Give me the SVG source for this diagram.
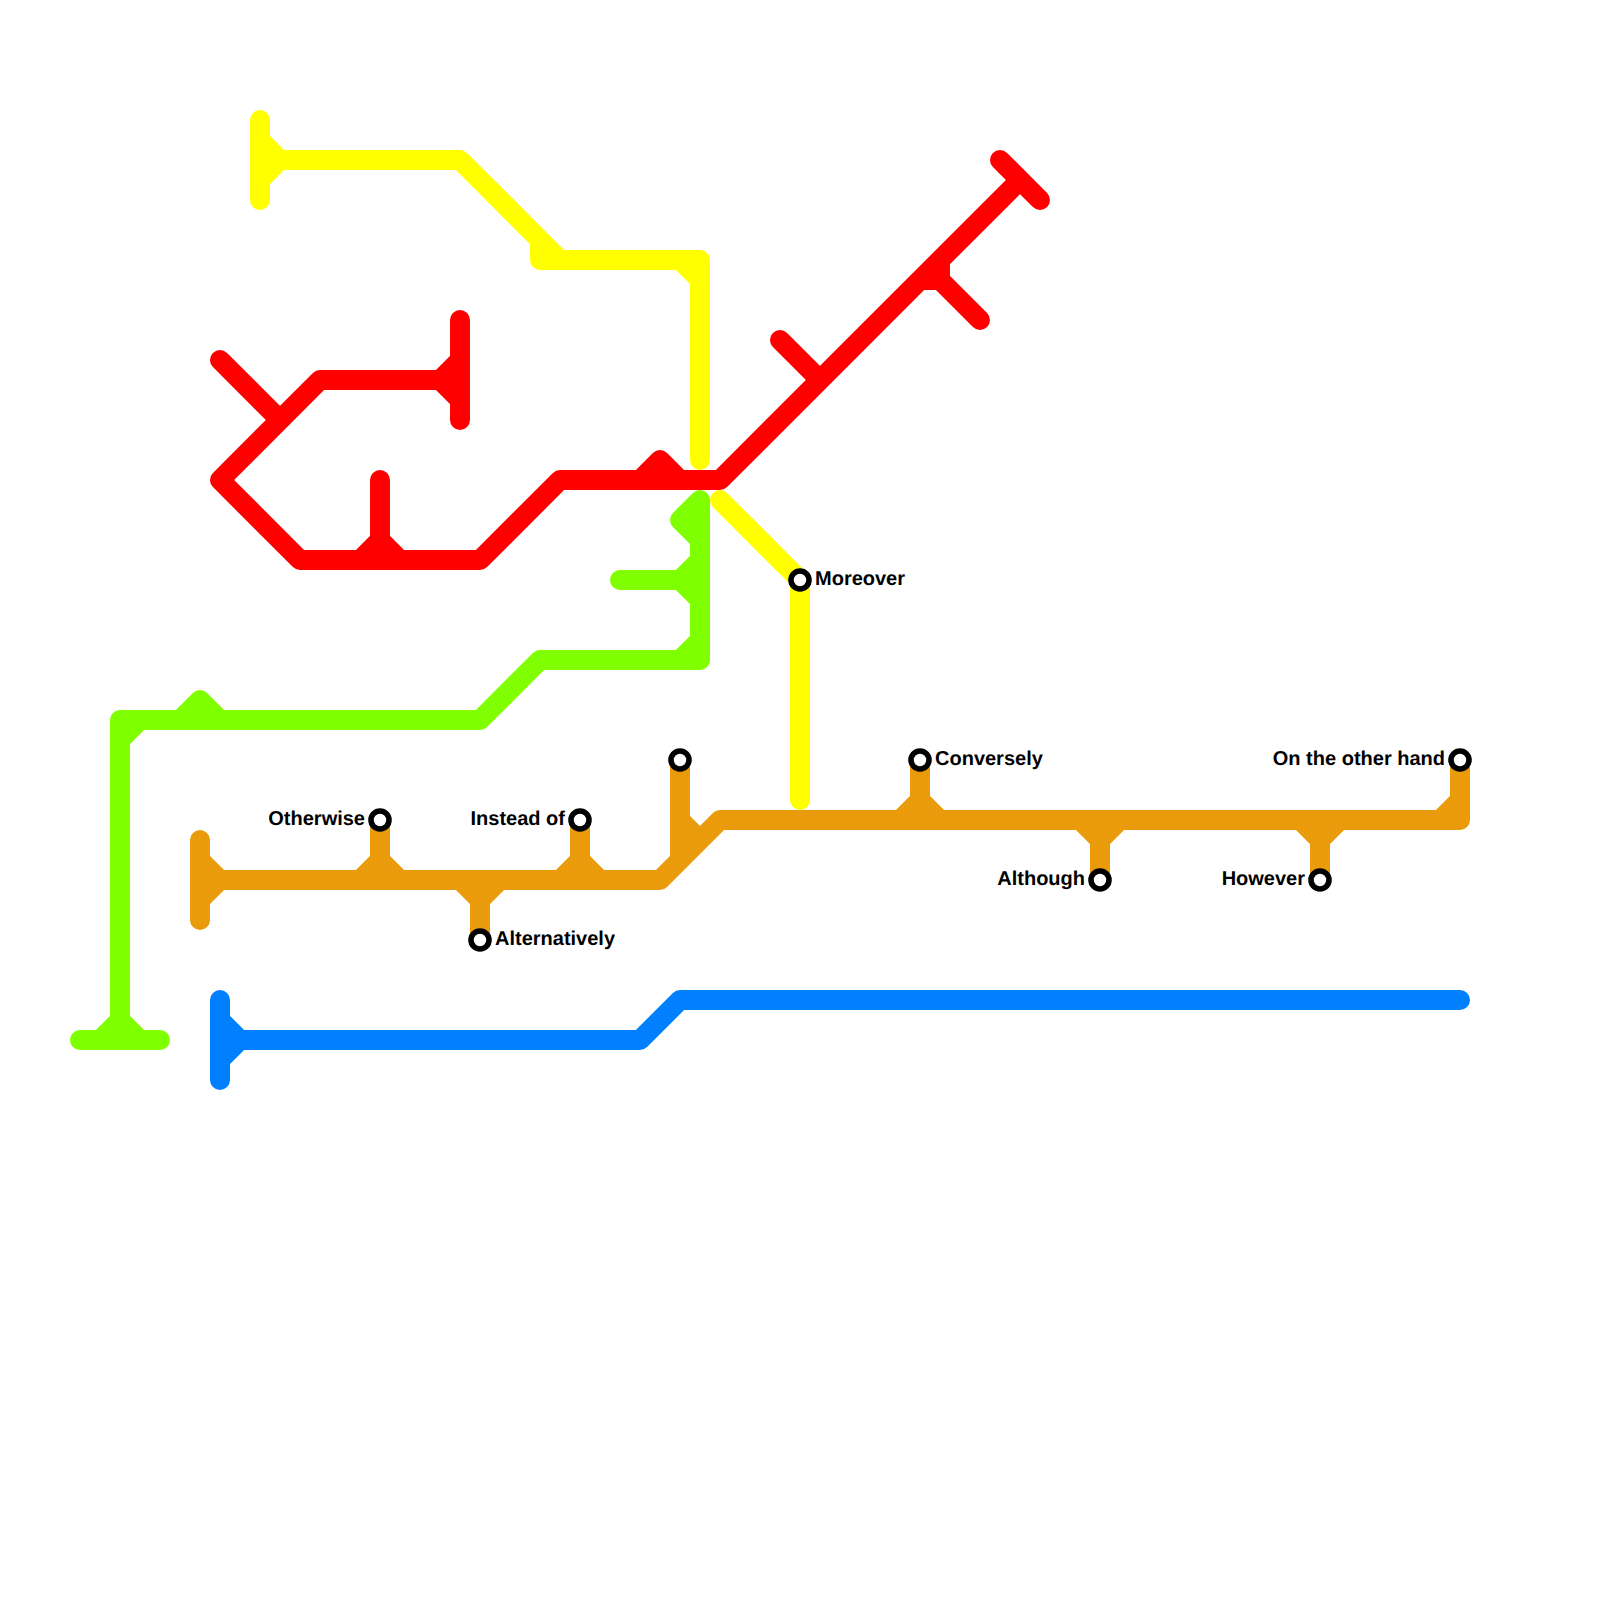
<svg xmlns="http://www.w3.org/2000/svg" width="1600" height="1600" viewBox="0 0 1600 1600">
<style>
.l{fill:none;stroke-width:20;stroke-linecap:round;stroke-linejoin:round}
.st{fill:#fff;stroke:#000;stroke-width:5.6}
text{font-family:"Liberation Sans",Arial,sans-serif;font-weight:700;font-size:20px;fill:#000;text-rendering:geometricPrecision}
.e{text-anchor:end}
</style>
<rect width="1600" height="1600" fill="#fff"/>
<g id="connectors">
<path id="line-orange" class="l" stroke="#e99b0c" d="M200 840V920M200 860L220 880L200 900M200 880H660L720 820H1460V760M1440 820L1460 800M380 820V880M360 880L380 860L400 880M480 880V940M460 880L480 900L500 880M580 820V880M560 880L580 860L600 880M680 760V860M660 880L680 860M680 820L700 840M920 760V820M900 820L920 800L940 820M1100 820V880M1080 820L1100 840L1120 820M1320 820V880M1300 820L1320 840L1340 820"/>
<path id="line-yellow" class="l" stroke="#ffff00" d="M260 120V200M260 140L280 160L260 180M260 160H460L560 260M540 240V260H700V460M680 260L700 280M720 500L800 580V800"/>
<path id="line-red" class="l" stroke="#ff0000" d="M220 360L280 420M220 480L320 380H460M460 320V420M440 380L460 360M440 380L460 400M220 480L300 560H480L560 480H720L1020 180M1000 160L1040 200M780 340L820 380M980 320L940 280V260M940 280H920M380 480V560M360 560L380 540L400 560M640 480L660 460L680 480"/>
<path id="line-green" class="l" stroke="#80ff00" d="M700 500V660H540L480 720H120V1040M700 500L680 520L700 540M620 580H700M680 580L700 560M680 580L700 600M680 660L700 640M120 740L140 720M180 720L200 700L220 720M80 1040H160M100 1040L120 1020L140 1040"/>
<path id="line-blue" class="l" stroke="#0080ff" d="M220 1000V1080M220 1020L240 1040L220 1060M220 1040H640L680 1000H1460"/>
</g>
<g id="node-moreover"><circle class="st" cx="800" cy="580" r="9"/><text x="815" y="585">Moreover</text></g>
<g id="node-otherwise"><circle class="st" cx="380" cy="820" r="9"/><text class="e" x="365" y="825">Otherwise</text></g>
<g id="node-instead-of"><circle class="st" cx="580" cy="820" r="9"/><text class="e" x="565" y="825">Instead of</text></g>
<g id="node-alternatively"><circle class="st" cx="480" cy="940" r="9"/><text x="495" y="945">Alternatively</text></g>
<g id="node-unnamed"><circle class="st" cx="680" cy="760" r="9"/></g>
<g id="node-conversely"><circle class="st" cx="920" cy="760" r="9"/><text x="935" y="765">Conversely</text></g>
<g id="node-although"><circle class="st" cx="1100" cy="880" r="9"/><text class="e" x="1085" y="885">Although</text></g>
<g id="node-however"><circle class="st" cx="1320" cy="880" r="9"/><text class="e" x="1305" y="885">However</text></g>
<g id="node-on-the-other-hand"><circle class="st" cx="1460" cy="760" r="9"/><text class="e" x="1445" y="765">On the other hand</text></g>
</svg>
